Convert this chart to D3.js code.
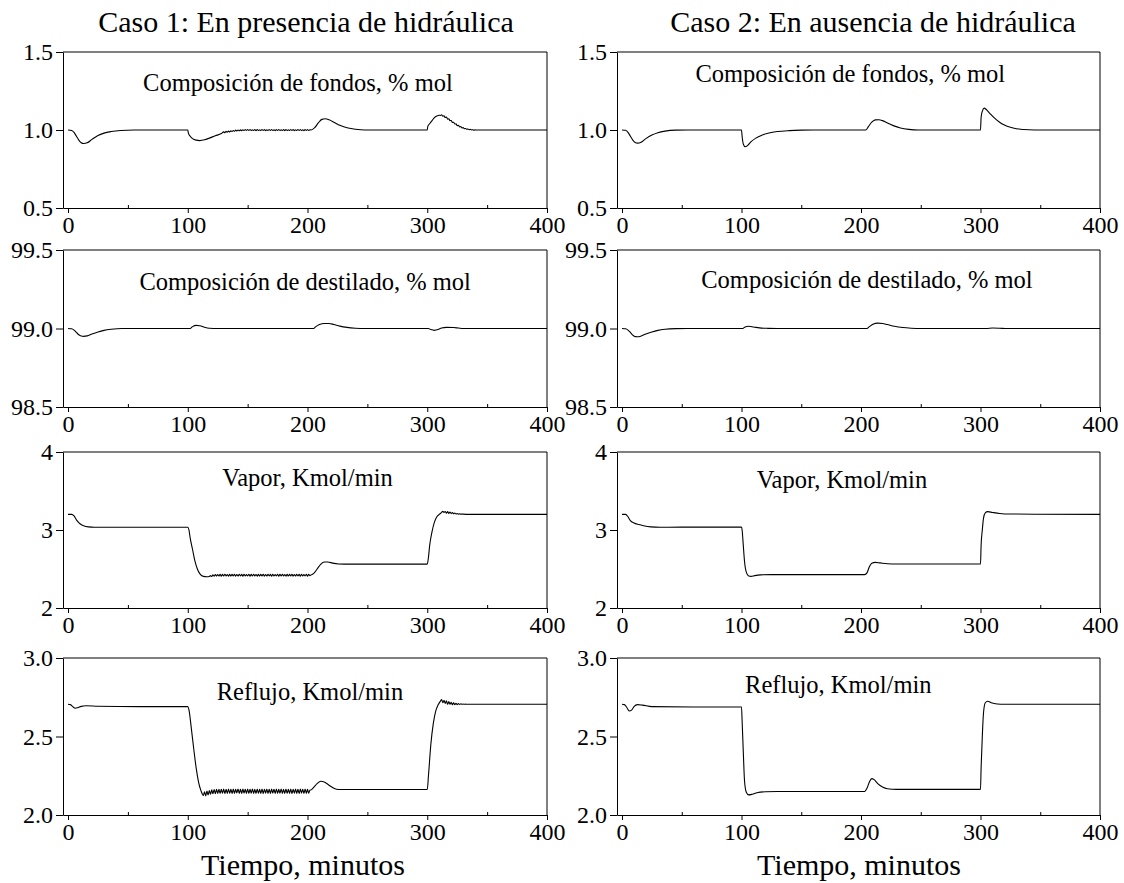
<!DOCTYPE html>
<html>
<head>
<meta charset="utf-8">
<script src="https://cdn.jsdelivr.net/npm/d3@7"></script>
<style>
  body { margin: 0; background: #fff; }
  svg text { font-family: "Liberation Serif", "Times New Roman", serif; fill: #000; }
</style>
</head>
<body>
<div id="chart"></div>
<script>
// ---- data ----
var xTicks = [0, 100, 200, 300, 400];
var xMinorTicks = [50, 150, 250, 350];
var colTitles = ["Caso 1: En presencia de hidráulica", "Caso 2: En ausencia de hidráulica"];
var panelTitles = ["Composición de fondos, % mol", "Composición de destilado, % mol", "Vapor, Kmol/min", "Reflujo, Kmol/min"];
var yDomains = [[0.5, 1.5], [98.5, 99.5], [2, 4], [2.0, 3.0]];
var yTicks = [[0.5, 1.0, 1.5], [98.5, 99.0, 99.5], [2, 3, 4], [2.0, 2.5, 3.0]];
var yFormats = [".1f", ".1f", "d", ".1f"];
var xLabel = "Tiempo, minutos";

// helper: values sampled once a minute, from start
function perMinute(start, values) { return values.map(function(v, i) { return [start + i, v]; }); }

// Composición de fondos, caso 1
var fondosC1Head = [[0,1.0],[3,0.997],[5,0.985],[7,0.96],[9,0.935],[11,0.918],[13,0.913],[16,0.918],[20,0.94],[25,0.965],[30,0.98],[36,0.99],[44,0.997],[55,1.0],[100,1.0],[100.5,0.98],[102,0.96],[104,0.945],[107,0.935],[110,0.932],[114,0.937],[118,0.948],[123,0.963],[128,0.977]];
var fondosC1Ripple1 = [0.988,0.983,0.991,0.986,0.993,0.988,0.995,0.99,0.997,0.992,0.999,0.994,1.0,0.995,1.001,0.996,1.002,0.997,1.003,0.997,
  1.003,0.997,1.003,0.997,1.002,0.997,1.003,0.996,1.003,0.997,1.002,0.997,1.003,0.997,1.003,0.996,1.002,0.997,1.003,0.997,
  1.003,0.997,1.002,0.996,1.003,0.997,1.003,0.997,1.002,0.997,1.003,0.996,1.003,0.997,1.002,0.997,1.003,0.997,1.003,0.996,
  1.002,0.997,1.003,0.997,1.003,0.997,1.002,0.996,1.003,0.997,1.003,0.997,1.002,1.0];
var fondosC1Mid = [[206,1.015],[209,1.045],[212,1.068],[215,1.072],[218,1.065],[222,1.05],[227,1.03],[233,1.015],[240,1.005],[248,1.0],[300,1.0],[300.5,1.025],[302,1.04],[304,1.06],[306,1.08],[308,1.09],[310,1.095]];
var fondosC1Ripple2 = [1.093,1.097,1.088,1.091,1.08,1.083,1.07,1.072,1.06,1.061,1.048,1.05,1.038,1.039,1.028,1.03,1.02,1.022,1.013,1.015,1.008,1.01,1.005,1.006,1.002,1.004,1.0,1.002,0.999,1.001,1.0,1.0,1.0,1.0,1.0];
var fondosC1Tail = [[350,1.0],[400,1.0]];

// Composición de fondos, caso 2
var fondosC2 = [[0,1.0],[3,0.998],[5,0.985],[7,0.96],[9,0.935],[11,0.92],[13,0.916],[16,0.922],[20,0.945],[25,0.968],[30,0.983],[36,0.993],[45,0.999],[55,1.0],[100,1.0],[100.5,0.96],[101.5,0.91],[103,0.893],[105,0.9],[108,0.925],[112,0.948],[117,0.967],[123,0.981],[130,0.99],[140,0.996],[150,0.999],[160,1.0],[204,1.0],[206,1.02],[209,1.05],[212,1.065],[215,1.066],[218,1.06],[222,1.045],[227,1.028],[233,1.013],[240,1.004],[248,1.0],[300,1.0],[300.5,1.08],[301.5,1.12],[303,1.14],[305,1.13],[308,1.105],[312,1.075],[316,1.05],[320,1.032],[325,1.017],[330,1.008],[336,1.003],[345,1.0],[400,1.0]];

// Composición de destilado
var destiladoC1 = [[0,99.0],[3,98.998],[5,98.99],[7,98.975],[9,98.96],[11,98.952],[13,98.95],[16,98.953],[20,98.965],[25,98.978],[30,98.988],[36,98.995],[45,99.0],[102,99.0],[104,99.012],[107,99.02],[110,99.018],[114,99.008],[118,99.002],[125,99.0],[205,99.0],[207,99.012],[210,99.025],[214,99.032],[218,99.032],[222,99.025],[227,99.015],[233,99.007],[240,99.002],[248,99.0],[301,99.0],[303,98.993],[306,98.988],[309,98.993],[312,99.003],[316,99.007],[322,99.006],[326,99.003],[330,99.0],[400,99.0]];
var destiladoC2 = [[0,99.0],[3,98.998],[5,98.99],[7,98.975],[9,98.958],[11,98.948],[13,98.947],[16,98.952],[20,98.965],[25,98.978],[30,98.988],[36,98.995],[45,98.999],[55,99.0],[101,99.0],[103,99.01],[106,99.014],[110,99.01],[115,99.004],[122,99.001],[130,99.0],[205,99.0],[207,99.012],[210,99.027],[214,99.034],[218,99.032],[222,99.025],[228,99.014],[235,99.006],[242,99.002],[250,99.0],[305,99.0],[310,99.003],[316,99.002],[322,99.0],[400,99.0]];

// Vapor, caso 1
var vaporC1Head = [[0,3.2],[3,3.2],[5,3.18],[7,3.13],[10,3.08],[13,3.055],[17,3.04],[22,3.035],[40,3.035],[100,3.035],[101,3.0],[102,2.9],[104,2.75],[106,2.6],[108,2.5],[110,2.44],[113,2.405],[116,2.4],[118,2.405]];
var vaporC1Ripple1 = [2.415,2.405,2.425,2.408,2.428,2.409,
  2.43,2.41,2.432,2.409,2.431,2.41,2.433,2.411,2.43,2.409,
  2.432,2.41,2.431,2.411,2.433,2.409,2.43,2.41,2.432,2.411,
  2.431,2.409,2.433,2.41,2.43,2.411,2.432,2.409,2.431,2.41,
  2.433,2.411,2.43,2.409,2.432,2.41,2.431,2.411,2.433,2.409,
  2.43,2.41,2.432,2.411,2.431,2.409,2.433,2.41,2.43,2.411,
  2.432,2.409,2.431,2.41,2.433,2.411,2.43,2.409,2.432,2.41,
  2.431,2.411,2.433,2.409,2.43,2.41,2.432,2.411,2.431,2.409,
  2.433,2.41,2.43,2.411,2.432,2.409,2.431,2.415];
var vaporC1Mid = [[203,2.425],[205,2.44],[208,2.5],[211,2.56],[214,2.59],[217,2.59],[221,2.575],[226,2.565],[235,2.562],[300,2.562],[301,2.65],[302,2.8],[304,2.98],[306,3.1],[308,3.17],[310,3.2],[312,3.225]];
var vaporC1Ripple2 = [3.24,3.225,3.238,3.215,3.235,3.212,3.23,3.21,3.225,3.208,3.218,3.205,3.212,3.203,3.208,3.203,3.205,3.203];
var vaporC1Tail = [[335,3.2],[400,3.2]];

// Vapor, caso 2
var vaporC2 = [[0,3.2],[3,3.2],[5,3.17],[7,3.12],[10,3.09],[14,3.07],[18,3.055],[24,3.04],[32,3.035],[50,3.037],[100,3.037],[100.5,3.0],[101.5,2.8],[102.5,2.6],[104,2.46],[106,2.41],[108,2.405],[111,2.415],[116,2.425],[125,2.428],[203,2.428],[205,2.45],[207,2.53],[209,2.575],[212,2.585],[216,2.578],[222,2.568],[230,2.565],[300,2.565],[300.5,2.8],[301.5,3.0],[302.5,3.15],[304,3.22],[306,3.235],[310,3.225],[316,3.212],[325,3.205],[400,3.2]];

// Reflujo, caso 1
var reflujoC1Head = [[0,2.705],[2,2.703],[4,2.69],[6,2.68],[8,2.683],[11,2.692],[15,2.696],[25,2.693],[60,2.69],[100,2.69],[101,2.67],[103,2.55],[105,2.42],[107,2.3],[109,2.21],[111,2.155],[113,2.125]];
var reflujoC1Ripple1 = [2.148,2.122,2.152,2.128,2.156,2.132,2.16,2.135,2.162,2.136,2.163,2.137,
  2.164,2.138,2.163,2.139,2.165,2.137,2.164,2.138,2.166,2.139,
  2.163,2.137,2.165,2.138,2.164,2.14,2.166,2.138,2.163,2.137,
  2.165,2.139,2.164,2.138,2.166,2.137,2.163,2.139,2.165,2.138,
  2.164,2.137,2.166,2.139,2.163,2.138,2.165,2.137,2.164,2.139,
  2.166,2.138,2.163,2.137,2.165,2.139,2.164,2.138,2.166,2.137,
  2.163,2.139,2.165,2.138,2.164,2.137,2.166,2.139,2.163,2.138,
  2.165,2.137,2.164,2.139,2.166,2.138,2.163,2.137,2.165,2.139,
  2.164,2.138,2.166,2.137,2.163,2.139,2.158];
var reflujoC1Mid = [[203,2.16],[205,2.175],[208,2.2],[211,2.215],[214,2.21],[218,2.19],[222,2.17],[226,2.162],[240,2.162],[300,2.162],[301,2.25],[303,2.45],[305,2.58],[307,2.66],[309,2.7],[311,2.725]];
var reflujoC1Ripple2 = [2.735,2.715,2.73,2.71,2.728,2.705,2.722,2.705,2.718,2.702,2.715,2.703,2.712,2.703,2.71,2.704,2.708,2.705,2.707,2.705,2.706,2.705,2.705];
var reflujoC1Tail = [[340,2.705],[400,2.705]];

// Reflujo, caso 2
var reflujoC2 = [[0,2.705],[2,2.703],[4,2.685],[6,2.662],[8,2.668],[10,2.69],[13,2.703],[17,2.7],[25,2.69],[60,2.688],[100,2.688],[100.5,2.6],[101.5,2.4],[102.5,2.22],[104,2.145],[106,2.128],[109,2.132],[113,2.142],[120,2.148],[130,2.15],[203,2.15],[205,2.17],[207,2.21],[209,2.232],[211,2.225],[214,2.2],[218,2.178],[222,2.167],[230,2.163],[300,2.163],[300.5,2.3],[301.5,2.5],[302.5,2.65],[304,2.715],[306,2.725],[309,2.715],[314,2.707],[320,2.705],[400,2.705]];

var fondosC1 = fondosC1Head.concat(perMinute(130, fondosC1Ripple1), fondosC1Mid, perMinute(311, fondosC1Ripple2), fondosC1Tail);
var vaporC1 = vaporC1Head.concat(perMinute(119, vaporC1Ripple1), vaporC1Mid, perMinute(313, vaporC1Ripple2), vaporC1Tail);
var reflujoC1 = reflujoC1Head.concat(perMinute(114, reflujoC1Ripple1), reflujoC1Mid, perMinute(312, reflujoC1Ripple2), reflujoC1Tail);

// series per row, [caso 1, caso 2]
var series = [[fondosC1, fondosC2], [destiladoC1, destiladoC2], [vaporC1, vaporC2], [reflujoC1, reflujoC2]];

// ---- layout ----
var W = 1124, H = 883;
var colX = [[63, 547], [617, 1100]];
var rowY = [[52, 208], [250, 407], [452, 608], [658, 815]];
// where each panel title sits, in data units [x, y]
var titlePos = [
  [[192, 1.25], [191, 1.305]],
  [[198, 99.245], [205, 99.258]],
  [[200, 3.57], [184, 3.54]],
  [[202, 2.73], [181, 2.78]]
];

var svg = d3.select("#chart").append("svg")
    .attr("width", W)
    .attr("height", H);

// column headings
svg.selectAll("text.coltitle")
  .data(colTitles)
  .enter().append("text")
    .attr("class", "coltitle")
    .attr("x", function(d, i) { return [306, 873][i]; })
    .attr("y", 32)
    .attr("text-anchor", "middle")
    .style("font-size", "30px")
    .text(function(d) { return d; });

// x axis label under each column
[303, 859].forEach(function(cx) {
  svg.append("text")
    .attr("x", cx)
    .attr("y", 875)
    .attr("text-anchor", "middle")
    .style("font-size", "30px")
    .text(xLabel);
});

for (var r = 0; r < 4; r++) {
  for (var c = 0; c < 2; c++) {
    var x = d3.scaleLinear().domain([-4.2, 400]).range(colX[c]);
    var y = d3.scaleLinear().domain(yDomains[r]).range([rowY[r][1], rowY[r][0]]);

    var g = svg.append("g");

    // frame (top + right)
    g.append("path")
      .attr("d", "M" + colX[c][0] + "," + rowY[r][0] + "H" + colX[c][1] + "V" + rowY[r][1])
      .attr("fill", "none")
      .attr("stroke", "#000")
      .attr("stroke-width", 1);

    // x axis, major ticks outside
    var xa = g.append("g")
      .attr("transform", "translate(0," + rowY[r][1] + ")")
      .call(d3.axisBottom(x).tickValues(xTicks).tickSize(5).tickSizeOuter(0).tickPadding(3));
    xa.selectAll("text").style("font-size", "24px");

    // minor ticks inside
    g.append("g")
      .attr("transform", "translate(0," + rowY[r][1] + ")")
      .call(d3.axisBottom(x).tickValues(xMinorTicks).tickSize(-3).tickFormat(""))
      .select(".domain").remove();

    // y axis
    var ya = g.append("g")
      .attr("transform", "translate(" + colX[c][0] + ",0)")
      .call(d3.axisLeft(y).tickValues(yTicks[r]).tickFormat(d3.format(yFormats[r])).tickSize(7).tickSizeOuter(0).tickPadding(3));
    ya.selectAll("text").style("font-size", "24px");

    // panel title
    g.append("text")
      .attr("x", x(titlePos[r][c][0]))
      .attr("y", y(titlePos[r][c][1]))
      .attr("text-anchor", "middle")
      .style("font-size", "24.5px")
      .text(panelTitles[r]);

    // curve
    var line = d3.line()
      .x(function(d) { return x(d[0]); })
      .y(function(d) { return y(d[1]); })
      .curve(d3.curveMonotoneX);

    g.append("path")
      .datum(series[r][c])
      .attr("fill", "none")
      .attr("stroke", "#000")
      .attr("stroke-width", 1.1)
      .attr("d", line);
  }
}
</script>
</body>
</html>
